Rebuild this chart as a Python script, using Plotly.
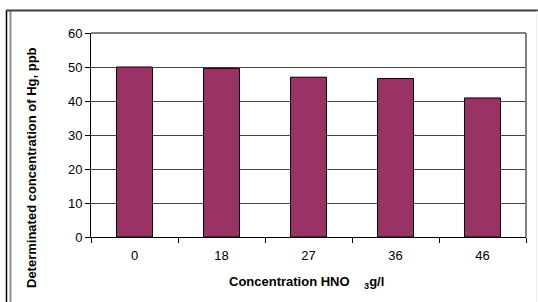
import plotly.graph_objects as go

categories = ["0", "18", "27", "36", "46"]
hg_values = [50.0, 49.6, 47.0, 46.6, 40.9]
y_ticks = [0, 10, 20, 30, 40, 50, 60]

W, H = 538, 302
L, R, T, B = 91, 12, 33, 65
pw, ph = W - L - R, H - T - B

def px(x):
    return (x - L) / pw

def py(y):
    return (H - B - y) / ph

fig = go.Figure()
fig.add_trace(go.Bar(
    x=categories, y=hg_values,
    marker=dict(color="#993366", line=dict(color="#000000", width=1)),
    width=0.414,
))

font = "Liberation Sans, Arial, sans-serif"

fig.update_layout(
    width=W, height=H,
    margin=dict(l=L, r=R, t=T, b=B),
    paper_bgcolor="white", plot_bgcolor="white",
    showlegend=False,
    font=dict(family=font, size=12, color="#000"),
    xaxis=dict(
        type="category", tickson="boundaries",
        ticks="outside", ticklen=5, tickcolor="#000", tickwidth=1,
        showline=True, linecolor="#000", linewidth=1,
        showgrid=False, ticklabelstandoff=6,
        tickfont=dict(size=13, family=font),
    ),
    yaxis=dict(
        range=[0, 60], tickvals=y_ticks,
        ticks="outside", ticklen=5, tickcolor="#000", tickwidth=1,
        showline=True, linecolor="#000", linewidth=1,
        showgrid=True, gridcolor="#444", gridwidth=1.3,
        zeroline=False,
        tickfont=dict(size=13, family=font),
    ),
    shapes=[
        dict(type="line", xref="paper", yref="paper", x0=0, x1=1, y0=1, y1=1,
             line=dict(color="#808080", width=2), layer="above"),
        dict(type="line", xref="paper", yref="paper", x0=1, x1=1, y0=0, y1=1,
             line=dict(color="#808080", width=2), layer="above"),
        dict(type="line", xref="paper", yref="paper", x0=px(6.5), x1=px(6.5), y0=py(10), y1=py(303),
             line=dict(color="#000", width=1.5)),
        dict(type="line", xref="paper", yref="paper", x0=px(10.5), x1=px(10.5), y0=py(10.5), y1=py(303),
             line=dict(color="#909090", width=2)),
        dict(type="line", xref="paper", yref="paper", x0=px(6), x1=px(538), y0=py(10.5), y1=py(10.5),
             line=dict(color="#404040", width=2)),
        dict(type="line", xref="paper", yref="paper", x0=px(536.5), x1=px(536.5), y0=py(11), y1=py(303),
             line=dict(color="#eeeeee", width=1)),
    ],
    annotations=[
        dict(text="<b>Determinated concentration of Hg, ppb</b>", textangle=-90,
             xref="paper", yref="paper", x=px(31), y=py(168),
             xanchor="center", yanchor="middle", showarrow=False,
             font=dict(size=13, family=font)),
        dict(text="<b>Concentration HNO\u00a0\u00a0\u00a0\u00a0<sub>3</sub>g/l</b>",
             xref="paper", yref="paper", x=px(306), y=py(282),
             xanchor="center", yanchor="middle", showarrow=False,
             font=dict(size=13, family=font)),
    ],
)

fig.write_html("out.html", config={"displayModeBar": False},
               post_script="document.body.style.margin='0';document.body.style.overflow='hidden';")
